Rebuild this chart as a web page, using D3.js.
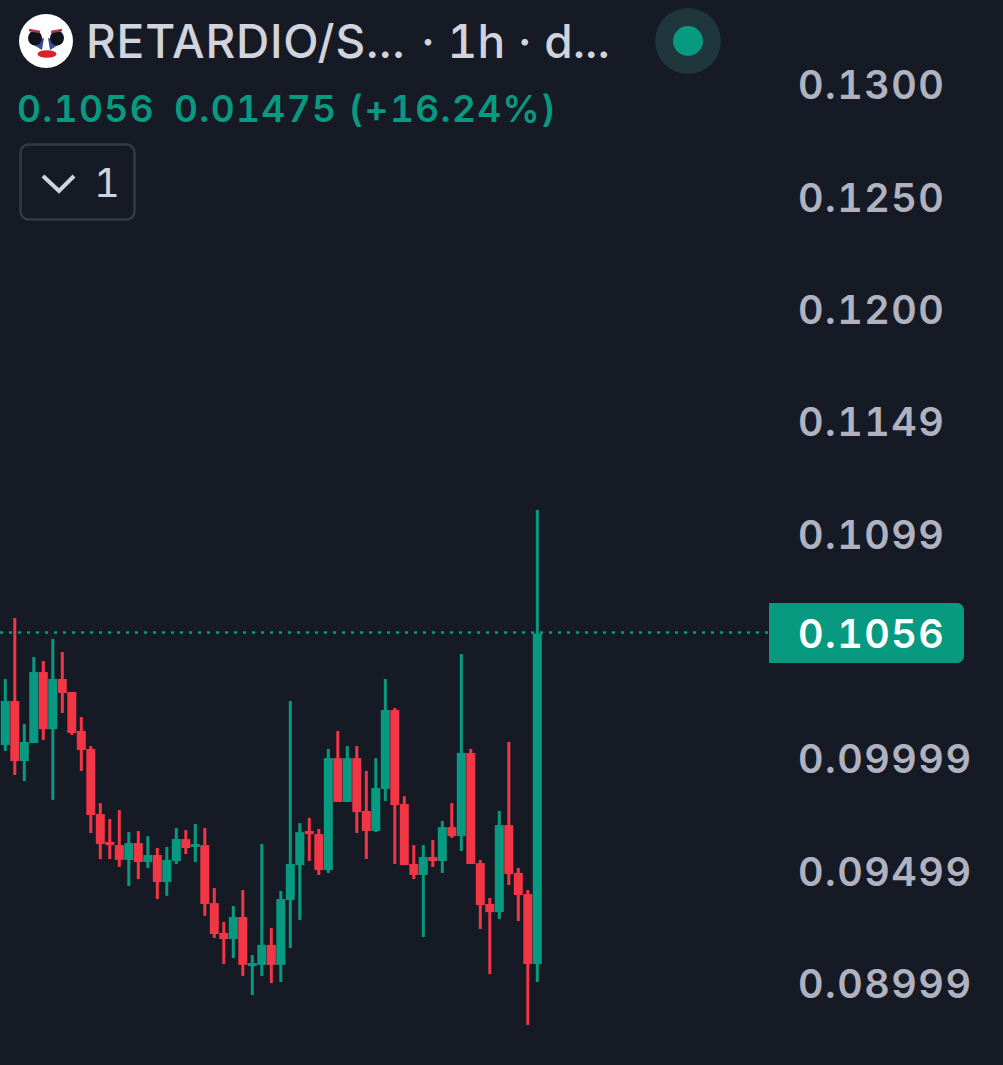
<!DOCTYPE html>
<html>
<head>
<meta charset="utf-8">
<script src="https://cdn.jsdelivr.net/npm/d3@7"></script>
<style>
html, body { margin: 0; padding: 0; background: #161a25; overflow: hidden; }
text { font-family: "Inter", sans-serif; font-feature-settings: "tnum" 1; }
</style>
</head>
<body>
<div id="figure"></div>
<script>
// candles, oldest first
var opens = [.10063,.10259,.09992,.10072,.10388,.10134,.10357,.10299,.10126,.10046,.09756,.09632,.09618,.09552,.09627,.09543,.09574,.09454,.09547,.09645,.09610,.09618,.09360,.09227,.09200,.09298,.09080,.09085,.09174,.09085,.09374,.09529,.09681,.09667,.09507,.10005,.09810,.10005,.09770,.09681,.09868,.10219,.09801,.09534,.09485,.09565,.09547,.09698,.09658,.10028,.09538,.09356,.09320,.09707,.09494,.09400,.09089];
var highs = [.10357,.10628,.10157,.10455,.10437,.10535,.10477,.10299,.10188,.10059,.09805,.09734,.09774,.09676,.09681,.09658,.09605,.09610,.09694,.09685,.09712,.09694,.09427,.09276,.09347,.09418,.09129,.09623,.09249,.09414,.10259,.09716,.09739,.09690,.10046,.10126,.10059,.10059,.09948,.10005,.10357,.10228,.09836,.09618,.09618,.09641,.09725,.09805,.10468,.10046,.09552,.09383,.09770,.10077,.09516,.09418,.11109];
var lows = [.10037,.09930,.09903,.10072,.10086,.09819,.10206,.10108,.09948,.09672,.09556,.09556,.09521,.09436,.09467,.09516,.09378,.09392,.09534,.09578,.09543,.09303,.09205,.09089,.09116,.09036,.08951,.09036,.09004,.09009,.09160,.09285,.09547,.09485,.09494,.09810,.09810,.09672,.09556,.09676,.09814,.09534,.09529,.09467,.09209,.09521,.09494,.09650,.09592,.09534,.09245,.09044,.09289,.09440,.09280,.08818,.09009];
var closes = [.10259,.09992,.10077,.10388,.10134,.10357,.10295,.10117,.10041,.09752,.09623,.09618,.09552,.09627,.09543,.09574,.09454,.09552,.09645,.09605,.09623,.09356,.09222,.09200,.09298,.09085,.09093,.09174,.09085,.09378,.09534,.09676,.09667,.09507,.10005,.09810,.10005,.09765,.09681,.09872,.10219,.09796,.09529,.09485,.09565,.09547,.09698,.09658,.10028,.09534,.09351,.09320,.09707,.09489,.09396,.09089,.1056];

var tickValues = [0.13, 0.125, 0.12, 0.115, 0.11, 0.1, 0.095, 0.09];
var tickLabels = ["0.1300", "0.1250", "0.1200", "0.1149", "0.1099", "0.09999", "0.09499", "0.08999"];
var lastPrice = 0.1056;
var lastLabel = "0.1056";
var titleText = "RETARDIO/S...";
var titleTail = "\u00b7 1h \u00b7 d...";
var legendPrice = "0.1056";
var legendChange = "0.01475 (+16.24%)";

var up = "#089981", down = "#f23645", bg = "#161a25";
var w = 1003, h = 1065;

var svg = d3.select("#figure").append("svg")
	.attr("width", w).attr("height", h)
	.style("display", "block");

svg.append("rect").attr("width", w).attr("height", h).attr("fill", bg);

var x = d3.scaleLinear().domain([0, opens.length - 1]).range([5.3, 537.3]);
var y = d3.scaleLinear().domain([0.09, 0.13]).range([984, 85]);

var idx = d3.range(opens.length);
function col(i) { return closes[i] >= opens[i] ? up : down; }

// wicks first, bodies on top
svg.selectAll("rect.wick").data(idx).enter().append("rect")
	.attr("class", "wick")
	.attr("x", function(i) { return x(i) - 1.5; })
	.attr("width", 3)
	.attr("y", function(i) { return y(highs[i]); })
	.attr("height", function(i) { return y(lows[i]) - y(highs[i]); })
	.attr("fill", col);

svg.selectAll("rect.body").data(idx).enter().append("rect")
	.attr("class", "body")
	.attr("x", function(i) { return x(i) - 4.5; })
	.attr("width", 9)
	.attr("y", function(i) { return y(Math.max(opens[i], closes[i])); })
	.attr("height", function(i) { return Math.max(3, Math.abs(y(opens[i]) - y(closes[i]))); })
	.attr("fill", col);

// last price line
svg.append("line")
	.attr("x1", 0).attr("x2", 769)
	.attr("y1", y(lastPrice) - 1).attr("y2", y(lastPrice) - 1)
	.attr("stroke", up).attr("stroke-width", 2.5)
	.attr("stroke-dasharray", "3 6");

// price axis
svg.selectAll("text.tick").data(tickValues).enter().append("text")
	.attr("class", "tick")
	.attr("x", 798)
	.attr("y", function(d) { return y(d); })
	.attr("dy", "0.36em")
	.attr("font-size", 39.5)
	.attr("font-weight", 600)
	.attr("letter-spacing", 1.5)
	.attr("fill", "#b0b2c0")
	.text(function(d, i) { return tickLabels[i]; });

svg.append("path")
	.attr("d", "M769 603H957a7 7 0 0 1 7 7V656a7 7 0 0 1 -7 7H769Z")
	.attr("fill", up);
svg.append("text")
	.attr("x", 798).attr("y", y(lastPrice)).attr("dy", "0.36em")
	.attr("font-size", 39.5).attr("font-weight", 600)
	.attr("letter-spacing", 1.5)
	.attr("fill", "#ffffff")
	.text(lastLabel);

// header
var logo = svg.append("g");
logo.append("circle").attr("cx", 46).attr("cy", 41).attr("r", 27).attr("fill", "#ffffff");
logo.append("path").attr("d", "M29 42L44 38L42 50ZM63 42L48 38L50 50Z").attr("fill", "#3c4a9a");
logo.append("ellipse").attr("cx", 35).attr("cy", 38).attr("rx", 7).attr("ry", 7.5).attr("fill", "#10121c");
logo.append("ellipse").attr("cx", 57).attr("cy", 38).attr("rx", 7).attr("ry", 7.5).attr("fill", "#10121c");
logo.append("ellipse").attr("cx", 47).attr("cy", 54).attr("rx", 9.5).attr("ry", 3.8).attr("fill", "#d8232a");
logo.append("path").attr("d", "M29 30L40 32M51 32L62 30").attr("stroke", "#b8323f").attr("stroke-width", 2.5).attr("fill", "none");

svg.append("text")
	.attr("x", 86).attr("y", 58)
	.attr("font-size", 46).attr("font-weight", 500)
	.attr("letter-spacing", 0.8)
	.attr("fill", "#d1d4dc")
	.text(titleText);
svg.append("text")
	.attr("x", 421).attr("y", 58)
	.attr("font-size", 46).attr("font-weight", 500)
	.attr("letter-spacing", 0.1)
	.attr("fill", "#d1d4dc")
	.text(titleTail);

svg.append("circle").attr("cx", 688).attr("cy", 41).attr("r", 33).attr("fill", "#1e363c");
svg.append("circle").attr("cx", 688).attr("cy", 41).attr("r", 15).attr("fill", up);

svg.append("text")
	.attr("x", 17).attr("y", 122)
	.attr("font-size", 37).attr("font-weight", 600)
	.attr("letter-spacing", 1.4)
	.attr("fill", up)
	.text(legendPrice);
svg.append("text")
	.attr("x", 174).attr("y", 122)
	.attr("font-size", 37).attr("font-weight", 600)
	.attr("letter-spacing", 1.4)
	.attr("fill", up)
	.text(legendChange);

svg.append("rect")
	.attr("x", 20.5).attr("y", 144.5).attr("width", 114).attr("height", 75).attr("rx", 8)
	.attr("fill", "none").attr("stroke", "#363a45").attr("stroke-width", 2.5);
svg.append("path")
	.attr("d", "M43 176L59 191L74 176")
	.attr("fill", "none").attr("stroke", "#d1d4dc").attr("stroke-width", 4);
svg.append("text")
	.attr("x", 94).attr("y", 197)
	.attr("font-size", 40)
	.attr("fill", "#d1d4dc")
	.text("1");
</script>
</body>
</html>
